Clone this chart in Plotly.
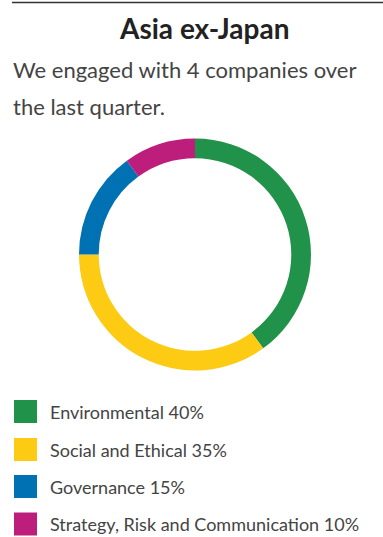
import plotly.graph_objects as go

# Engagement breakdown by theme
categories = ["Environmental", "Social and Ethical", "Governance",
              "Strategy, Risk and Communication"]
shares = [40, 35, 15, 10]
colors = ["#219249", "#FDCA14", "#0071B2", "#BD1E7B"]

title = "Asia ex-Japan"
subtitle_lines = ["We engaged with 4 companies over", "the last quarter."]

W, H = 383, 537
FONT = "Lato"


def px(x):
    return x / W


def py(y):
    return 1 - y / H


fig = go.Figure(go.Pie(
    labels=categories,
    values=shares,
    hole=0.83,
    sort=False,
    direction="clockwise",
    rotation=0,
    marker=dict(colors=colors, line=dict(width=0)),
    textinfo="none",
    hoverinfo="label+percent",
    domain=dict(x=[px(79), px(311)], y=[py(370.5), py(138.5)]),
    showlegend=False,
))

shapes = [dict(type="line", xref="paper", yref="paper",
               x0=px(12), x1=1, y0=py(2.5), y1=py(2.5),
               line=dict(color="#333333", width=1.5))]

annotations = [
    dict(text="<b>" + title + "</b>", x=px(204), y=py(28), xref="paper", yref="paper",
         xanchor="center", yanchor="middle", showarrow=False,
         font=dict(family=FONT, size=28, color="#222222")),
]
for i, line in enumerate(subtitle_lines):
    annotations.append(dict(
        text=line, x=px(11), y=py(70 + 36 * i), xref="paper", yref="paper",
        xanchor="left", yanchor="middle", showarrow=False,
        font=dict(family=FONT, size=22, color="#444444")))

# Custom legend: coloured squares with labels and shares
row_y = [411.5, 449.5, 486.5, 524]
for i, (cat, val, col) in enumerate(zip(categories, shares, colors)):
    yc = row_y[i]
    shapes.append(dict(type="rect", xref="paper", yref="paper",
                       x0=px(14), x1=px(37), y0=py(yc + 11.5), y1=py(yc - 11.5),
                       fillcolor=col, line=dict(width=0)))
    annotations.append(dict(
        text=f"{cat} {val}%", x=px(48), y=py(yc), xref="paper", yref="paper",
        xanchor="left", yanchor="middle", showarrow=False,
        font=dict(family=FONT, size=18, color="#444444")))

fig.update_layout(
    width=W, height=H,
    margin=dict(l=0, r=0, t=0, b=0),
    paper_bgcolor="white",
    plot_bgcolor="white",
    shapes=shapes,
    annotations=annotations,
)

fig.write_html("out.html")
